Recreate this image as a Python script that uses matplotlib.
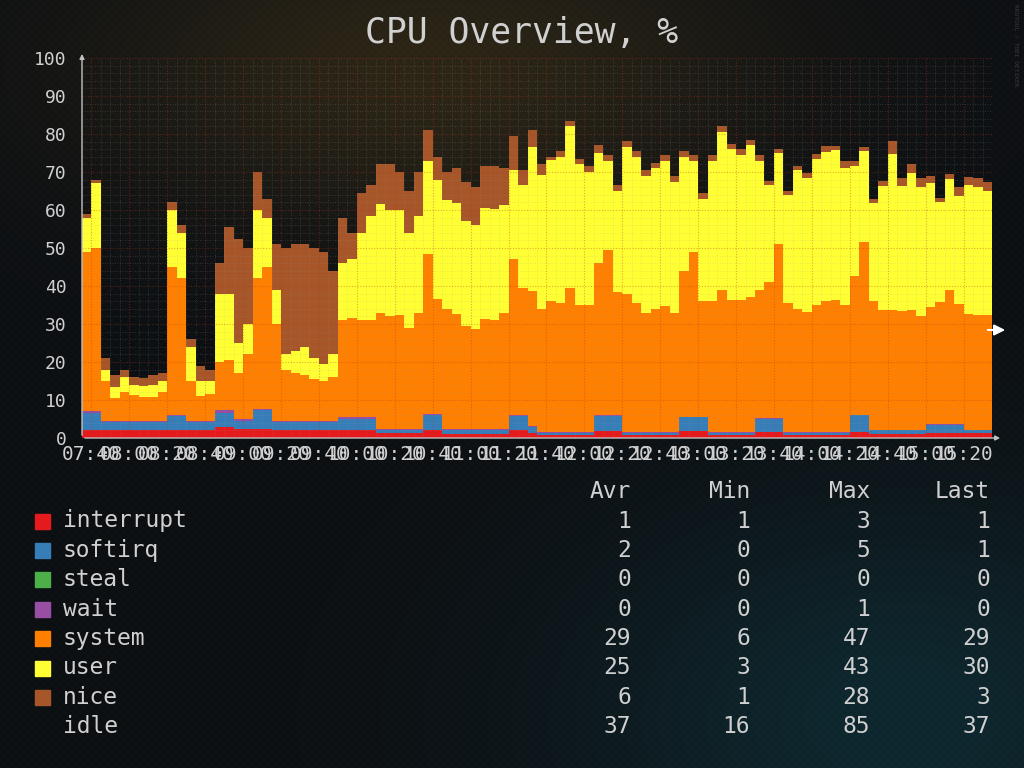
import numpy as np
import matplotlib
matplotlib.use('Agg')
import matplotlib.pyplot as plt
from matplotlib.patches import Rectangle, FancyArrowPatch

# 5 minute samples starting 07:35
start_time = '07:35'
step_min = 5

interrupt = [2.2, 2.2, 2.0, 2.0, 2.0, 2.0, 2.0, 2.0, 2.0, 2.2,
             2.2, 2.0, 2.0, 2.0, 3.0, 3.0, 2.3, 2.3, 2.5, 2.5,
             2.0, 2.0, 2.0, 2.0, 2.0, 2.0, 2.0, 2.0, 2.0, 2.0,
             2.0, 1.2, 1.2, 1.2, 1.2, 1.2, 2.0, 2.0, 1.0, 1.0,
             1.0, 1.0, 1.0, 1.0, 1.0, 2.0, 2.0, 1.4, 0.7, 0.7,
             0.7, 0.7, 0.7, 0.7, 1.9, 1.9, 1.9, 0.8, 0.8, 0.8,
             0.8, 0.8, 0.8, 1.9, 1.9, 1.9, 0.8, 0.8, 0.8, 0.8,
             0.8, 1.6, 1.6, 1.6, 0.8, 0.8, 0.8, 0.8, 0.8, 0.8,
             0.8, 1.6, 1.6, 1.0, 1.0, 1.0, 1.0, 1.0, 1.0, 1.4,
             1.4, 1.4, 1.4, 1.4, 1.4, 1.4]
softirq = [4.5, 4.5, 2.3, 2.3, 2.3, 2.3, 2.3, 2.3, 2.3, 3.5,
           3.5, 2.2, 2.2, 2.2, 3.5, 3.5, 2.3, 2.3, 4.8, 4.8,
           2.2, 2.2, 2.2, 2.2, 2.2, 2.2, 2.2, 3.0, 3.0, 3.0,
           3.0, 1.0, 1.0, 1.0, 1.0, 1.0, 4.0, 4.0, 1.1, 1.1,
           1.1, 1.1, 1.1, 1.1, 1.1, 3.8, 3.8, 1.6, 0.7, 0.7,
           0.7, 0.7, 0.7, 0.7, 4.0, 4.0, 4.0, 0.6, 0.6, 0.6,
           0.6, 0.6, 0.6, 3.6, 3.6, 3.6, 0.6, 0.6, 0.6, 0.6,
           0.6, 3.5, 3.5, 3.5, 0.6, 0.6, 0.6, 0.6, 0.6, 0.6,
           0.6, 4.4, 4.4, 1.0, 1.0, 1.0, 1.0, 1.0, 1.0, 2.0,
           2.0, 2.0, 2.0, 0.6, 0.6, 0.6]
steal = [0.0] * 96
wait = [0.3, 0.3, 0.2, 0.2, 0.2, 0.2, 0.2, 0.2, 0.2, 0.3,
        0.3, 0.2, 0.2, 0.2, 0.9, 0.9, 0.5, 0.5, 0.3, 0.3,
        0.3, 0.3, 0.3, 0.3, 0.3, 0.3, 0.3, 0.5, 0.5, 0.5,
        0.5, 0.2, 0.2, 0.2, 0.2, 0.2, 0.2, 0.2, 0.2, 0.2,
        0.2, 0.2, 0.2, 0.2, 0.2, 0.2, 0.2, 0.1, 0.1, 0.1,
        0.1, 0.1, 0.1, 0.1, 0.1, 0.1, 0.1, 0.1, 0.1, 0.1,
        0.1, 0.1, 0.1, 0.1, 0.1, 0.1, 0.1, 0.1, 0.1, 0.1,
        0.1, 0.1, 0.1, 0.1, 0.1, 0.1, 0.1, 0.1, 0.1, 0.1,
        0.1, 0.1, 0.1, 0.1, 0.1, 0.1, 0.1, 0.1, 0.1, 0.3,
        0.3, 0.3, 0.3, 0.1, 0.1, 0.1]
system = [42.0, 43.0, 10.5, 6.0, 7.5, 6.8, 6.4, 6.4, 7.5, 39.0,
          36.0, 10.6, 6.6, 7.1, 12.6, 13.1, 12.1, 16.9, 34.4, 37.4,
          25.5, 13.5, 12.5, 12.0, 11.0, 10.5, 11.5, 25.5, 26.0, 25.5,
          25.5, 30.6, 29.6, 30.0, 26.6, 30.6, 42.3, 30.3, 31.7, 30.3,
          27.2, 26.3, 28.9, 28.7, 30.7, 41.0, 33.6, 35.7, 32.5, 34.5,
          34.0, 38.0, 33.5, 33.5, 40.0, 43.5, 32.3, 36.5, 34.0, 31.5,
          32.5, 33.3, 31.5, 38.4, 43.4, 30.4, 34.5, 37.5, 34.7, 34.7,
          35.5, 33.8, 35.8, 45.8, 34.0, 32.5, 31.7, 33.5, 34.5, 34.8,
          33.5, 36.5, 45.5, 33.9, 31.5, 31.7, 31.3, 31.6, 30.1, 30.8,
          32.1, 35.3, 31.5, 30.6, 30.4, 30.4]
user = [9.0, 17.0, 3.0, 3.0, 4.0, 2.7, 2.8, 3.1, 3.0, 15.0,
        12.0, 9.0, 4.0, 3.5, 18.0, 17.5, 7.8, 8.0, 18.0, 13.0,
        9.0, 4.0, 6.0, 7.5, 5.5, 4.5, 6.0, 15.0, 15.5, 23.0,
        27.5, 28.5, 28.0, 27.6, 25.0, 25.5, 24.5, 31.5, 28.5, 29.2,
        27.5, 27.4, 29.3, 29.2, 28.3, 23.5, 27.0, 37.7, 35.2, 37.2,
        38.5, 42.5, 37.0, 35.0, 29.0, 23.5, 26.7, 38.7, 38.5, 36.0,
        37.0, 38.2, 34.5, 30.0, 24.0, 27.0, 37.0, 41.5, 39.8, 38.3,
        40.0, 34.0, 25.5, 24.0, 28.5, 36.5, 35.3, 38.3, 39.3, 39.5,
        36.0, 29.1, 24.0, 25.8, 32.8, 41.0, 32.9, 36.0, 33.9, 32.7,
        26.2, 29.2, 28.5, 33.8, 33.5, 32.5]
nice = [1.0, 1.0, 3.0, 3.1, 2.0, 2.0, 2.0, 2.6, 2.0, 2.0,
        2.0, 2.0, 4.0, 3.0, 8.0, 17.5, 27.5, 20.0, 10.0, 5.0,
        12.0, 28.0, 28.0, 27.0, 29.0, 29.5, 22.0, 12.0, 7.0, 10.5,
        8.0, 10.5, 12.0, 10.0, 11.0, 11.5, 8.0, 6.0, 7.5, 9.2,
        10.5, 10.0, 11.1, 11.3, 9.7, 9.0, 3.9, 4.5, 2.8, 0.8,
        1.5, 1.5, 1.5, 1.5, 2.0, 1.5, 1.5, 1.5, 1.5, 1.5,
        1.3, 1.5, 1.5, 1.5, 1.5, 1.5, 1.5, 1.5, 1.5, 1.5,
        1.3, 1.5, 1.2, 1.0, 1.0, 1.2, 1.3, 1.5, 1.5, 1.0,
        1.8, 1.3, 0.9, 1.0, 1.2, 3.4, 2.2, 2.4, 2.2, 1.8,
        1.2, 1.3, 2.4, 2.1, 2.5, 2.4]

tick_labels = ['07:40', '08:00', '08:20', '08:40', '09:00', '09:20',
               '09:40', '10:00', '10:20', '10:40', '11:00', '11:20',
               '11:40', '12:00', '12:20', '12:40', '13:00', '13:20',
               '13:40', '14:00', '14:20', '14:40', '15:00', '15:20']

legend_names = ['interrupt', 'softirq', 'steal', 'wait', 'system', 'user', 'nice', 'idle']
legend_colors = ['#e41a1c', '#377eb8', '#4daf4a', '#984ea3', '#ff7f00', '#ffff33', '#a65628', None]
stat_avr = [1, 2, 0, 0, 29, 25, 6, 37]
stat_min = [1, 0, 0, 0, 6, 3, 1, 16]
stat_max = [3, 5, 0, 1, 47, 43, 28, 85]
stat_last = [1, 1, 0, 0, 29, 30, 3, 37]

TXT = '#d0d0d0'
FONT = 'DejaVu Sans Mono'


def to_min(s):
    h, m = s.split(':')
    return int(h) * 60 + int(m)


def background(h, w):
    yy, xx = np.mgrid[0:h, 0:w].astype(float)
    img = np.zeros((h, w, 3))
    img[:] = np.array([12, 15, 18]) / 255.0
    glow = np.exp(-((xx - 430) / 330) ** 2 - ((yy - 70) / 150) ** 2)
    img += glow[..., None] * np.array([32, 22, 4]) / 255.0
    teal = np.exp(-((xx - 900) / 330) ** 2 - ((yy - 720) / 220) ** 2)
    img += teal[..., None] * np.array([2, 24, 28]) / 255.0
    pat = (((xx + yy) % 8) < 1) | (((xx - yy) % 8) < 1)
    img += pat[..., None] * 0.018
    return np.clip(img, 0, 1)


fig = plt.figure(figsize=(10.24, 7.68), dpi=100)
fig.figimage(background(768, 1024), 0, 0, origin='upper', zorder=-10)

ax = fig.add_axes([82 / 1024, 1 - 438 / 768, 910 / 1024, 380 / 768])
ax.patch.set_alpha(0)

t0 = to_min(start_time)
n = len(system)
x = t0 + step_min * np.arange(n + 1)
layers = [interrupt, softirq, steal, wait, system, user, nice]
ys = [np.append(v, v[-1]) for v in layers]
ax.stackplot(x, *ys, colors=legend_colors[:7], step='post', linewidth=0)

ax.set_xlim(t0, t0 + step_min * n)
ax.set_ylim(0, 100)

ax.set_xticks([to_min(s) for s in tick_labels])
ax.set_xticklabels(tick_labels)
ax.set_xticks(np.arange(t0, t0 + step_min * n + 1, 5), minor=True)
ax.set_yticks(range(0, 101, 10))
ax.set_yticks(range(0, 101, 2), minor=True)
ax.tick_params(which='both', length=0, colors=TXT)
ax.tick_params(axis='y', pad=11, labelsize=13)
ax.tick_params(axis='x', pad=5, labelsize=14)
for lab in ax.get_xticklabels() + ax.get_yticklabels():
    lab.set_family(FONT)

ax.set_axisbelow(False)
ax.grid(which='major', color='#b03a28', lw=0.8, alpha=0.4, linestyle=(0, (1, 1.5)))
ax.grid(which='minor', color='#9a9a9a', lw=0.6, alpha=0.3, linestyle=(0, (1, 2)))
for sp in ax.spines.values():
    sp.set_visible(False)

# axis lines with arrows
ax.annotate('', xy=(0, 1.018), xytext=(0, 0), xycoords='axes fraction',
            arrowprops=dict(arrowstyle='-|>', color='#c0c0c0', lw=1, mutation_scale=7))
ax.annotate('', xy=(1.012, 0), xytext=(0, 0), xycoords='axes fraction',
            arrowprops=dict(arrowstyle='-|>', color='#c0c0c0', lw=1, mutation_scale=7))

fig.text(522 / 1024, 1 - 33 / 768, 'CPU Overview, %', ha='center', va='center',
         fontsize=25, color=TXT, family=FONT)

# legend table
cols_x = [631, 750, 870, 990]
for cx, head in zip(cols_x, ['Avr', 'Min', 'Max', 'Last']):
    fig.text(cx / 1024, 1 - 491 / 768, head, ha='right', va='center', fontsize=16.5, color=TXT, family=FONT)
for i, name in enumerate(legend_names):
    yp = 1 - (521 + 29.4 * i) / 768
    if legend_colors[i]:
        fig.add_artist(Rectangle((35 / 1024, yp - 7.5 / 768), 15 / 1024, 15 / 768,
                                 transform=fig.transFigure, color=legend_colors[i]))
    fig.text(63 / 1024, yp, name, ha='left', va='center', fontsize=16.5, color=TXT, family=FONT)
    vals = [stat_avr[i], stat_min[i], stat_max[i], stat_last[i]]
    for cx, v in zip(cols_x, vals):
        fig.text(cx / 1024, yp, str(v), ha='right', va='center', fontsize=16.5, color=TXT, family=FONT)

fig.text(1016 / 1024, 1 - 4 / 768, 'RRDTOOL / TOBI OETIKER', rotation=270, ha='center', va='top',
         fontsize=4.5, color='#3a3a3a', family=FONT)

fig.add_artist(FancyArrowPatch((985 / 1024, 1 - 330 / 768), (1008 / 1024, 1 - 330 / 768),
                               transform=fig.transFigure, arrowstyle='-|>', mutation_scale=16,
                               color='white', lw=1.5))

fig.savefig('out.png', dpi=100)
